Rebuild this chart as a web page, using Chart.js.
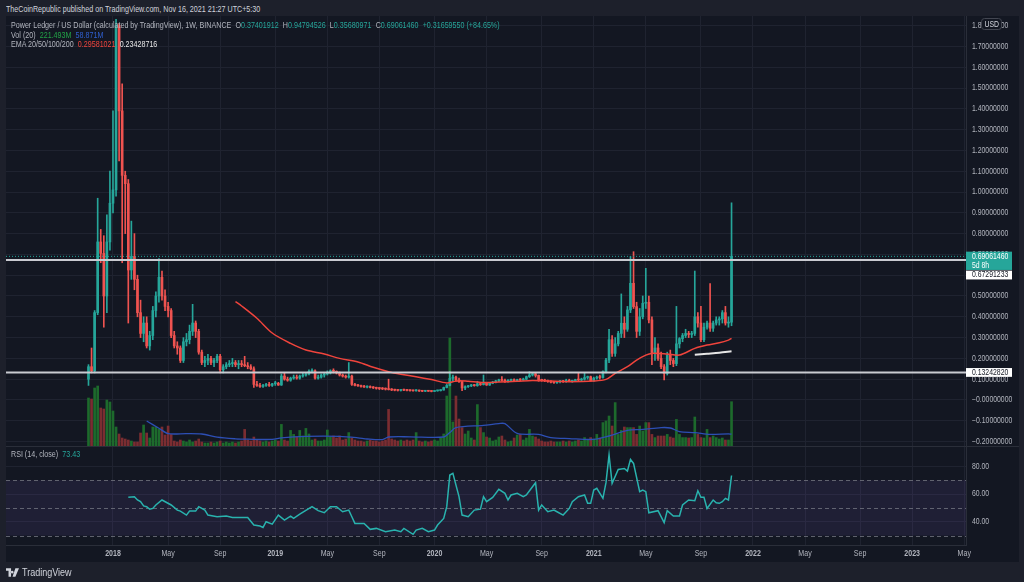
<!DOCTYPE html>
<html lang="en">
<head>
<meta charset="utf-8">
<title>Power Ledger / US Dollar - 1W</title>
<script src="https://cdn.jsdelivr.net/npm/chart.js@4.4.1/dist/chart.umd.min.js"></script>
<style>
  html, body { margin: 0; padding: 0; }
  body {
    width: 1024px; height: 582px; overflow: hidden; position: relative;
    background: #1d202b;
    font-family: "Liberation Sans", Arial, sans-serif;
    color: #b2b5be;
  }
  #panel { position: absolute; left: 6px; top: 16px; width: 1013px; height: 546px; background: #131722; }
  #mainChart { position: absolute; left: 6px; top: 16px; }
  #rsiChart { position: absolute; left: 6px; top: 446px; }
  .sep { position: absolute; background: #2a2e39; }
  .txt {
    position: absolute; white-space: nowrap; font-size: 8.6px; line-height: 10px;
    transform: scaleX(0.83); transform-origin: left center;
  }
  .txt span { margin-right: 5px; }
  .up { color: #26a69a; }
  .grn { color: #22a447; }
  .blu { color: #2f5fd0; }
  .red { color: #f0443c; }
  .wht { color: #e6e6e6; }
  #footer { position: absolute; left: 6px; top: 567px; font-size: 10px; color: #d1d4dc; display: flex; align-items: center; }
  #footer span { transform: scaleX(0.9); transform-origin: left center; display: inline-block; }
  #footer svg { margin-right: 3px; }
</style>
</head>
<body>
<div id="panel"></div>
<canvas id="mainChart" width="1013" height="430"></canvas>
<canvas id="rsiChart" width="1013" height="116"></canvas>
<div class="sep" style="left:6px; top:446px; width:1013px; height:1px;"></div>

<div class="txt" style="left:6px; top:3.5px; color:#d1d4dc;">TheCoinRepublic published on TradingView.com, Nov 16, 2021 21:27 UTC+5:30</div>
<div class="txt" style="left:11px; top:20px;">
  <span>Power Ledger / US Dollar (calculated by TradingView), 1W, BINANCE</span><span>O<i class="up" style="font-style:normal">0.37401912</i></span><span>H<i class="up" style="font-style:normal">0.94794526</i></span><span>L<i class="up" style="font-style:normal">0.35680971</i></span><span>C<i class="up" style="font-style:normal">0.69061460</i></span><span class="up">+0.31659550 (+84.65%)</span>
</div>
<div class="txt" style="left:11px; top:29.5px;"><span>Vol (20)</span><span class="grn">221.493M</span><span class="blu">58.871M</span></div>
<div class="txt" style="left:11px; top:39px;"><span>EMA 20/50/100/200</span><span class="red">0.29581021</span><span class="wht">0.23428716</span></div>
<div class="txt" style="left:11px; top:449px;"><span>RSI (14, close)</span><span class="up">73.43</span></div>

<div id="footer">
  <svg width="13" height="9" viewBox="0 0 36 24"><path d="M0 0h14v24H7V7H0z M17 7a4 4 0 1 0 0.1 0z M26 0h10L26 24h-8z" fill="#d1d4dc"/></svg>
  <span>TradingView</span>
</div>

<script>
// ===== Data (weekly bars, week 0 = the bar of 1 Jan 2018) =====
const FIRST_WEEK = -8;

const opens = [
  0.10, 0.16, 0.14, 0.42, 0.76, 0.705, 0.50, 0.76, 0.946, 1.01,
  1.80, 1.39, 1.08, 1.04, 0.625, 0.69, 0.58, 0.42, 0.32, 0.37,
  0.26, 0.31, 0.43, 0.50, 0.59, 0.50, 0.45, 0.43, 0.31, 0.26,
  0.25, 0.19, 0.28, 0.29, 0.33, 0.37, 0.33, 0.23, 0.18, 0.19,
  0.20, 0.18, 0.19, 0.21, 0.145, 0.16, 0.17, 0.175, 0.18, 0.17,
  0.175, 0.17, 0.165, 0.16, 0.15, 0.075, 0.07, 0.065, 0.07, 0.075,
  0.07, 0.078, 0.08, 0.072, 0.115, 0.10, 0.095, 0.105, 0.11, 0.105,
  0.115, 0.12, 0.125, 0.138, 0.14, 0.105, 0.11, 0.12, 0.125, 0.13,
  0.14, 0.138, 0.13, 0.12, 0.115, 0.11, 0.115, 0.075, 0.07, 0.068,
  0.065, 0.062, 0.064, 0.06, 0.058, 0.056, 0.055, 0.053, 0.052, 0.05,
  0.048, 0.047, 0.046, 0.048, 0.047, 0.046, 0.045, 0.044, 0.046, 0.043,
  0.042, 0.044, 0.042, 0.041, 0.044, 0.045, 0.048, 0.06, 0.07, 0.104,
  0.11, 0.096, 0.088, 0.058, 0.064, 0.068, 0.07, 0.069, 0.078, 0.074,
  0.082, 0.072, 0.08, 0.086, 0.092, 0.096, 0.094, 0.09, 0.094, 0.097,
  0.093, 0.098, 0.096, 0.10, 0.112, 0.12, 0.126, 0.118, 0.096, 0.094,
  0.092, 0.088, 0.085, 0.083, 0.088, 0.09, 0.088, 0.095, 0.09, 0.092,
  0.098, 0.096, 0.10, 0.108, 0.112, 0.092, 0.105, 0.11, 0.108, 0.136,
  0.192, 0.29, 0.224, 0.27, 0.32, 0.369, 0.34, 0.433, 0.561, 0.449,
  0.33, 0.40, 0.465, 0.47, 0.385, 0.225, 0.25, 0.20, 0.16, 0.128,
  0.216, 0.19, 0.175, 0.27, 0.295, 0.31, 0.32, 0.315, 0.32, 0.40,
  0.37, 0.29, 0.35, 0.37, 0.345, 0.37, 0.385, 0.39, 0.42, 0.37,
  0.374
];
const highs = [
  0.17, 0.25, 0.43, 0.97, 0.82, 0.79, 0.89, 1.10, 1.39, 1.83,
  1.81, 1.52, 1.10, 1.06, 0.86, 0.80, 0.60, 0.48, 0.40, 0.40,
  0.33, 0.45, 0.52, 0.68, 0.62, 0.53, 0.47, 0.44, 0.33, 0.28,
  0.26, 0.30, 0.32, 0.36, 0.46, 0.38, 0.34, 0.24, 0.21, 0.22,
  0.21, 0.20, 0.22, 0.22, 0.17, 0.18, 0.19, 0.20, 0.19, 0.19,
  0.19, 0.21, 0.18, 0.17, 0.16, 0.09, 0.08, 0.075, 0.08, 0.085,
  0.08, 0.09, 0.085, 0.125, 0.13, 0.11, 0.11, 0.12, 0.12, 0.12,
  0.13, 0.13, 0.145, 0.15, 0.145, 0.12, 0.125, 0.13, 0.14, 0.145,
  0.15, 0.14, 0.135, 0.125, 0.12, 0.18, 0.12, 0.08, 0.075, 0.072,
  0.07, 0.068, 0.068, 0.065, 0.062, 0.06, 0.06, 0.058, 0.10, 0.055,
  0.052, 0.05, 0.05, 0.052, 0.05, 0.049, 0.048, 0.05, 0.048, 0.046,
  0.045, 0.046, 0.045, 0.045, 0.047, 0.05, 0.062, 0.075, 0.136, 0.12,
  0.115, 0.105, 0.09, 0.068, 0.07, 0.075, 0.075, 0.09, 0.08, 0.12,
  0.085, 0.085, 0.09, 0.095, 0.10, 0.112, 0.10, 0.098, 0.10, 0.102,
  0.10, 0.103, 0.105, 0.115, 0.136, 0.13, 0.13, 0.12, 0.10, 0.10,
  0.096, 0.093, 0.09, 0.09, 0.095, 0.095, 0.10, 0.10, 0.095, 0.10,
  0.13, 0.105, 0.13, 0.115, 0.115, 0.11, 0.115, 0.12, 0.14, 0.20,
  0.34, 0.31, 0.30, 0.33, 0.51, 0.40, 0.45, 0.69, 0.713, 0.47,
  0.44, 0.50, 0.633, 0.50, 0.40, 0.30, 0.27, 0.23, 0.17, 0.23,
  0.24, 0.20, 0.45, 0.30, 0.32, 0.34, 0.33, 0.33, 0.62, 0.42,
  0.45, 0.37, 0.38, 0.56, 0.38, 0.40, 0.40, 0.43, 0.45, 0.40,
  0.948
];
const lows = [
  0.07, 0.13, 0.13, 0.41, 0.66, 0.35, 0.42, 0.72, 0.90, 0.98,
  1.15, 0.66, 0.80, 0.37, 0.58, 0.53, 0.40, 0.30, 0.28, 0.25,
  0.24, 0.29, 0.40, 0.47, 0.48, 0.43, 0.40, 0.30, 0.25, 0.22,
  0.18, 0.18, 0.26, 0.27, 0.31, 0.30, 0.22, 0.17, 0.16, 0.17,
  0.17, 0.16, 0.18, 0.13, 0.13, 0.15, 0.16, 0.16, 0.16, 0.15,
  0.16, 0.16, 0.15, 0.145, 0.06, 0.065, 0.06, 0.06, 0.065, 0.065,
  0.065, 0.07, 0.07, 0.07, 0.095, 0.09, 0.09, 0.10, 0.10, 0.10,
  0.11, 0.115, 0.12, 0.13, 0.10, 0.10, 0.105, 0.11, 0.12, 0.125,
  0.13, 0.125, 0.115, 0.11, 0.105, 0.105, 0.07, 0.068, 0.065, 0.062,
  0.06, 0.058, 0.058, 0.055, 0.052, 0.05, 0.05, 0.048, 0.048, 0.045,
  0.044, 0.043, 0.043, 0.045, 0.044, 0.043, 0.042, 0.042, 0.041, 0.04,
  0.04, 0.041, 0.039, 0.04, 0.042, 0.043, 0.047, 0.058, 0.068, 0.09,
  0.09, 0.085, 0.045, 0.05, 0.06, 0.064, 0.066, 0.066, 0.07, 0.072,
  0.07, 0.07, 0.078, 0.082, 0.088, 0.09, 0.085, 0.086, 0.09, 0.09,
  0.09, 0.093, 0.094, 0.098, 0.108, 0.115, 0.11, 0.09, 0.09, 0.088,
  0.085, 0.082, 0.08, 0.08, 0.082, 0.085, 0.085, 0.088, 0.085, 0.088,
  0.09, 0.09, 0.095, 0.10, 0.09, 0.09, 0.10, 0.10, 0.105, 0.13,
  0.18, 0.21, 0.21, 0.26, 0.30, 0.30, 0.33, 0.42, 0.44, 0.30,
  0.31, 0.39, 0.44, 0.37, 0.17, 0.19, 0.19, 0.15, 0.096, 0.12,
  0.17, 0.16, 0.165, 0.25, 0.28, 0.30, 0.30, 0.30, 0.31, 0.35,
  0.28, 0.28, 0.34, 0.33, 0.33, 0.36, 0.36, 0.37, 0.36, 0.35,
  0.357
];
const closes = [
  0.16, 0.14, 0.42, 0.76, 0.705, 0.50, 0.76, 0.946, 1.01, 1.80,
  1.39, 1.08, 1.04, 0.625, 0.69, 0.58, 0.42, 0.32, 0.37, 0.26,
  0.31, 0.43, 0.50, 0.59, 0.50, 0.45, 0.43, 0.31, 0.26, 0.25,
  0.19, 0.28, 0.29, 0.33, 0.37, 0.33, 0.23, 0.18, 0.19, 0.20,
  0.18, 0.19, 0.21, 0.145, 0.16, 0.17, 0.175, 0.18, 0.17, 0.175,
  0.17, 0.165, 0.16, 0.15, 0.075, 0.07, 0.065, 0.07, 0.075, 0.07,
  0.078, 0.08, 0.072, 0.115, 0.10, 0.095, 0.105, 0.11, 0.105, 0.115,
  0.12, 0.125, 0.138, 0.14, 0.105, 0.11, 0.12, 0.125, 0.13, 0.14,
  0.138, 0.13, 0.12, 0.115, 0.11, 0.115, 0.075, 0.07, 0.068, 0.065,
  0.062, 0.064, 0.06, 0.058, 0.056, 0.055, 0.053, 0.052, 0.05, 0.048,
  0.047, 0.046, 0.048, 0.047, 0.046, 0.045, 0.044, 0.046, 0.043, 0.042,
  0.044, 0.042, 0.041, 0.044, 0.045, 0.048, 0.06, 0.07, 0.104, 0.11,
  0.096, 0.088, 0.058, 0.064, 0.068, 0.07, 0.069, 0.078, 0.074, 0.082,
  0.072, 0.08, 0.086, 0.092, 0.096, 0.094, 0.09, 0.094, 0.097, 0.093,
  0.098, 0.096, 0.10, 0.112, 0.12, 0.126, 0.118, 0.096, 0.094, 0.092,
  0.088, 0.085, 0.083, 0.087, 0.09, 0.088, 0.095, 0.09, 0.092, 0.098,
  0.096, 0.10, 0.108, 0.112, 0.092, 0.105, 0.11, 0.108, 0.136, 0.192,
  0.29, 0.224, 0.27, 0.32, 0.369, 0.34, 0.433, 0.561, 0.449, 0.33,
  0.40, 0.465, 0.47, 0.385, 0.225, 0.25, 0.20, 0.16, 0.128, 0.216,
  0.19, 0.175, 0.27, 0.295, 0.31, 0.32, 0.315, 0.32, 0.40, 0.37,
  0.29, 0.35, 0.37, 0.345, 0.37, 0.385, 0.39, 0.42, 0.37, 0.374,
  0.691
];
// volume in millions
const volumes = [
  240, 235, 290, 300, 190, 185, 230, 220, 175, 95,
  60, 40, 35, 30, 25, 20, 20, 65, 105, 65,
  40, 95, 95, 85, 95, 55, 100, 58, 25, 20,
  30, 25, 20, 30, 20, 25, 35, 20, 15, 15,
  20, 15, 20, 25, 15, 20, 15, 20, 15, 20,
  25, 83, 30, 25, 45, 30, 25, 20, 25, 20,
  25, 30, 25, 108, 30, 25, 78, 58, 45, 78,
  50, 88, 60, 30, 35, 25, 25, 30, 80, 45,
  50, 40, 50, 30, 35, 67, 40, 30, 25, 25,
  20, 25, 30, 25, 25, 20, 25, 30, 183, 35,
  30, 25, 30, 25, 30, 25, 30, 67, 25, 20,
  25, 20, 25, 30, 25, 40, 60, 250, 540, 120,
  250, 135, 92, 60, 75, 40, 30, 207, 92, 67,
  45, 40, 25, 30, 45, 50, 30, 20, 25, 40,
  55, 58, 30, 40, 83, 50, 45, 35, 25, 20,
  20, 25, 20, 20, 20, 25, 20, 25, 20, 25,
  30, 25, 42, 30, 42, 35, 58, 40, 117, 125,
  150, 100, 217, 58, 78, 95, 92, 92, 92, 58,
  100, 75, 117, 117, 58, 42, 50, 50, 50, 58,
  45, 40, 133, 58, 42, 42, 40, 42, 145, 58,
  42, 40, 83, 42, 50, 42, 35, 40, 30, 30,
  221.5
];

const volMaWeeks = [11, 15, 18, 24, 29, 34, 40, 44, 52, 55, 63, 74, 80, 83, 88, 90, 97, 108, 110, 112,
  121, 126, 128, 132, 139, 143, 149, 157, 162, 168, 173, 179, 182, 185, 190, 195, 201, 202];
const volMaValues = [125, 89, 62, 62, 60, 44, 36, 34, 33, 41, 48, 48, 41, 35, 32, 45, 46, 45, 67, 92,
  103, 112, 112, 63, 58, 42, 37, 33, 50, 78, 83, 92, 90, 72, 67, 58, 61, 58.9];

const ema50Weeks = [40, 42, 47, 52, 58, 63, 69, 74, 80, 85, 90, 94, 99, 104, 109, 111, 113, 116, 121, 126,
  132, 137, 143, 149, 157, 161, 164, 168, 171, 174, 176, 181, 185, 190, 194, 198, 201, 202];
const ema50Values = [0.473, 0.452, 0.393, 0.322, 0.272, 0.24, 0.221, 0.20, 0.183, 0.157, 0.136, 0.124, 0.112, 0.098,
  0.082, 0.088, 0.093, 0.090, 0.084, 0.086, 0.090, 0.094, 0.091, 0.088, 0.091, 0.099, 0.128, 0.16, 0.192,
  0.216, 0.224, 0.221, 0.216, 0.248, 0.264, 0.275, 0.288, 0.296];
const ema200Weeks = [190, 194, 198, 202];
const ema200Values = [0.217, 0.222, 0.227, 0.234];

const rsiWeeks = [5, 7, 8, 9, 10, 11, 12, 13, 14, 16, 19, 21, 22, 24, 25, 27, 28, 30, 31, 34,
  37, 39, 44, 46, 48, 49, 50, 52, 54, 56, 58, 59, 61, 65, 67, 69, 71, 73, 75, 77,
  78, 79, 82, 84, 86, 89, 92, 94, 95, 98, 99, 101, 103, 105, 106, 108, 109, 110, 111, 113,
  114, 116, 118, 120, 121, 122, 124, 126, 128, 129, 130, 132, 134, 135, 137, 138, 139, 140, 142, 144,
  145, 147, 149, 150, 152, 154, 155, 156, 157, 158, 160, 161, 162, 163, 165, 167, 168, 169, 170, 172,
  173, 174, 175, 178, 180, 181, 183, 185, 186, 188, 190, 191, 192, 193, 194, 196, 197, 198, 199, 200,
  201, 202];
const rsiValues = [57.6, 58.1, 55.7, 54.5, 51.4, 50.9, 49, 49.6, 52.1, 55.7, 52.1, 48.4, 47.7, 44.8, 47.7, 47.7, 50.9, 48.4, 44.8, 43.6,
  44.1, 43.1, 43.1, 37.6, 36.9, 35.9, 40, 38.3, 44.8, 41.2, 44.1, 42.4, 45.5, 50.9, 48, 46.5, 50.9, 50.9, 47.2, 48.4,
  43.6, 38.8, 38.8, 34.5, 35.2, 32.8, 34, 32.8, 35.2, 30.9, 34, 35.2, 32.8, 34, 37.6, 42.4, 50.9, 73.7, 74.9, 58.1,
  44.8, 43.6, 48.4, 49.1, 58.1, 54.5, 57.6, 63.4, 60.5, 55.7, 59.3, 60.5, 58.1, 59.3, 65.3, 68.2, 48.4, 52.1, 47.2, 48.4,
  47.2, 44.8, 49.6, 54.5, 58.1, 59.3, 53.3, 53.3, 62.9, 64.1, 56.9, 68.2, 88.2, 67.7, 77.8, 78.5, 76.6, 85, 82.1, 61.7,
  62.9, 61.7, 46.5, 48, 39.3, 48, 44.1, 44.1, 52.1, 55.7, 55.2, 62.4, 57.6, 57.6, 49.6, 55.7, 53.7, 53.3, 54.5, 56.9,
  55.7, 73.4];

// horizontal levels drawn on the chart and the last close
const levelPrices = [0.67291233, 0.13242820];
const lastClose = 0.69061460;

// axis ticks
const priceTicks = [-0.2, -0.1, 0, 0.1, 0.2, 0.3, 0.4, 0.5, 0.6, 0.7, 0.8, 0.9, 1.0, 1.1, 1.2, 1.3, 1.4, 1.5, 1.6, 1.7, 1.8];
const rsiTicks = [40, 60, 80];
const rsiBands = [70, 50, 30];
const timeTickWeeks = [0, 18, 35, 53, 70, 87, 105, 122, 140, 157, 174, 192, 209, 226, 244, 261, 278];
const timeTickLabels = ['2018', 'May', 'Sep', '2019', 'May', 'Sep', '2020', 'May', 'Sep', '2021', 'May', 'Sep',
  '2022', 'May', 'Sep', '2023', 'May'];

// ===== Look =====
const FONT = '"Liberation Sans", Arial, sans-serif';
const SX = 0.82;          // TradingView text is narrow, squeeze it a little
const UP = '#26a69a';
const DOWN = '#ef5350';
const VOL_UP = '#1d6a2c';
const VOL_DOWN = '#7b2d31';
const GRID = '#1f2330';
const BORDER = '#2a2e39';
const TEXT = '#b2b5be';
const X_MIN = -34.94, X_MAX = 278.57;
const AXIS_W = 53;

const weeks = closes.map((_, i) => FIRST_WEEK + i);
const isUp = i => closes[i] >= opens[i];
const points = (xs, ys) => xs.map((x, i) => ({ x, y: ys[i] }));

function fmtPrice(v) {
  const a = Math.abs(v).toFixed(8);
  return (v < 0 || Math.abs(v) < 1e-9) ? '\u2212' + a : a;
}

function squeezedText(ctx, text, x, y, align) {
  ctx.save();
  ctx.translate(x, y);
  ctx.scale(SX, 1);
  ctx.textAlign = align || 'left';
  ctx.fillText(text, 0, 0);
  ctx.restore();
}

// ===== Right axis labels (ticks, last price, levels, currency) =====
const priceLabels = {
  id: 'priceLabels',
  afterDraw(chart) {
    const { ctx, chartArea, scales: { y } } = chart;
    const x0 = chartArea.right;
    ctx.save();
    ctx.font = `8.4px ${FONT}`;
    ctx.textBaseline = 'middle';

    ctx.fillStyle = TEXT;
    priceTicks.forEach(v => squeezedText(ctx, fmtPrice(v), x0 + 6, y.getPixelForValue(v)));

    const yc = y.getPixelForValue(lastClose);
    ctx.fillStyle = UP;
    ctx.fillRect(x0, yc - 4.7, 46, 18.3);
    ctx.fillStyle = '#ffffff';
    squeezedText(ctx, fmtPrice(lastClose), x0 + 6, yc + 0.3);
    squeezedText(ctx, '5d 8h', x0 + 6, yc + 9);

    // upper level label is pushed below the last-price box
    ctx.fillStyle = '#ffffff';
    ctx.fillRect(x0, yc + 14.3, 46, 8.8);
    ctx.fillStyle = '#131722';
    squeezedText(ctx, fmtPrice(levelPrices[0]), x0 + 6, yc + 18.8);

    const yl = y.getPixelForValue(levelPrices[1]);
    ctx.fillStyle = '#ffffff';
    ctx.fillRect(x0, yl - 4.4, 46, 8.8);
    ctx.fillStyle = '#131722';
    squeezedText(ctx, fmtPrice(levelPrices[1]), x0 + 6, yl);

    // currency badge
    ctx.fillStyle = '#131722';
    ctx.strokeStyle = '#434651';
    ctx.beginPath();
    ctx.roundRect(x0 + 15.5, 2.5, 20, 11, 3);
    ctx.fill();
    ctx.stroke();
    ctx.fillStyle = '#d1d4dc';
    squeezedText(ctx, 'USD', x0 + 18.5, 8.3);
    ctx.restore();
  }
};

// ===== Main pane: candles, volume, EMAs =====
new Chart(document.getElementById('mainChart'), {
  type: 'bar',
  data: {
    datasets: [
      {
        label: 'Volume', yAxisID: 'yVol', order: 6, grouped: false, barThickness: 2,
        data: points(weeks, volumes),
        backgroundColor: weeks.map((_, i) => isUp(i) ? VOL_UP : VOL_DOWN)
      },
      {
        type: 'line', label: 'Vol MA 20', yAxisID: 'yVol', order: 5,
        data: points(volMaWeeks, volMaValues),
        borderColor: '#2d4fb5', borderWidth: 1.3, pointRadius: 0, tension: 0.3
      },
      {
        label: 'Wicks', order: 4, grouped: false, barThickness: 1,
        data: weeks.map((k, i) => ({ x: k, y: [lows[i], highs[i]] })),
        backgroundColor: weeks.map((_, i) => isUp(i) ? UP : DOWN)
      },
      {
        label: 'Bodies', order: 3, grouped: false, barThickness: 2, minBarLength: 1,
        data: weeks.map((k, i) => ({ x: k, y: [opens[i], closes[i]] })),
        backgroundColor: weeks.map((_, i) => isUp(i) ? UP : DOWN)
      },
      {
        type: 'line', label: 'EMA 50', order: 2,
        data: points(ema50Weeks, ema50Values),
        borderColor: '#f0443c', borderWidth: 1.5, pointRadius: 0, tension: 0.3
      },
      {
        type: 'line', label: 'EMA 200', order: 2,
        data: points(ema200Weeks, ema200Values),
        borderColor: '#e6e6e6', borderWidth: 2, pointRadius: 0, tension: 0.3
      },
      ...levelPrices.map(p => ({
        type: 'line', label: 'Level', order: 1,
        data: [{ x: X_MIN, y: p }, { x: X_MAX, y: p }],
        borderColor: '#c9cbd1', borderWidth: 2, pointRadius: 0
      })),
      {
        type: 'line', label: 'Last', order: 0,
        data: [{ x: X_MIN, y: lastClose }, { x: X_MAX, y: lastClose }],
        borderColor: UP, borderWidth: 1, borderDash: [1, 2], pointRadius: 0
      }
    ]
  },
  options: {
    responsive: false,
    animation: false,
    layout: { padding: 0 },
    plugins: { legend: { display: false }, tooltip: { enabled: false } },
    scales: {
      x: {
        type: 'linear', min: X_MIN, max: X_MAX, offset: false,
        afterBuildTicks: s => { s.ticks = timeTickWeeks.map(v => ({ value: v })); },
        afterFit: s => { s.height = 0; },
        ticks: { display: false },
        grid: { color: GRID, drawTicks: false, offset: false },
        border: { display: false }
      },
      y: {
        position: 'right', min: -0.2212, max: 1.8462,
        afterBuildTicks: s => { s.ticks = priceTicks.map(v => ({ value: v })); },
        afterFit: s => { s.width = AXIS_W; },
        ticks: { display: false },
        grid: { color: GRID, drawTicks: false },
        border: { color: BORDER }
      },
      yVol: { display: false, min: 0, max: 2150 }
    }
  },
  plugins: [priceLabels]
});

// ===== RSI pane =====
const rsiBand = {
  id: 'rsiBand',
  beforeDatasetsDraw(chart) {
    const { ctx, chartArea: a, scales: { y } } = chart;
    const top = y.getPixelForValue(rsiBands[0]);
    const bottom = y.getPixelForValue(rsiBands[2]);
    ctx.save();
    ctx.fillStyle = 'rgba(126, 87, 194, 0.12)';
    ctx.fillRect(a.left, top, a.right - a.left, bottom - top);
    ctx.strokeStyle = 'rgba(120, 123, 134, 0.75)';
    ctx.lineWidth = 1;
    ctx.setLineDash([4, 3]);
    rsiBands.forEach(v => {
      const yy = Math.round(y.getPixelForValue(v)) + 0.5;
      ctx.beginPath();
      ctx.moveTo(a.left, yy);
      ctx.lineTo(a.right, yy);
      ctx.stroke();
    });
    ctx.restore();
  },
  afterDraw(chart) {
    const { ctx, chartArea: a, scales: { x, y } } = chart;
    ctx.save();
    ctx.textBaseline = 'middle';
    ctx.fillStyle = TEXT;
    ctx.font = `8.4px ${FONT}`;
    rsiTicks.forEach(v => squeezedText(ctx, v.toFixed(2), a.right + 6, y.getPixelForValue(v)));
    timeTickWeeks.forEach((k, i) => {
      const label = timeTickLabels[i];
      ctx.font = `${/^\d{4}$/.test(label) ? 'bold ' : ''}8.6px ${FONT}`;
      squeezedText(ctx, label, x.getPixelForValue(k), a.bottom + 9, 'center');
    });
    ctx.restore();
  }
};

new Chart(document.getElementById('rsiChart'), {
  type: 'line',
  data: {
    datasets: [{
      label: 'RSI', data: points(rsiWeeks, rsiValues),
      borderColor: '#29b3ae', borderWidth: 1.5, pointRadius: 0, tension: 0
    }]
  },
  options: {
    responsive: false,
    animation: false,
    layout: { padding: 0 },
    plugins: { legend: { display: false }, tooltip: { enabled: false } },
    scales: {
      x: {
        type: 'linear', min: X_MIN, max: X_MAX,
        afterBuildTicks: s => { s.ticks = timeTickWeeks.map(v => ({ value: v })); },
        afterFit: s => { s.height = 17; },
        ticks: { display: false },
        grid: { color: GRID, drawTicks: false },
        border: { color: BORDER }
      },
      y: {
        position: 'right', min: 23.2, max: 94.7,
        afterBuildTicks: s => { s.ticks = rsiTicks.map(v => ({ value: v })); },
        afterFit: s => { s.width = AXIS_W; },
        ticks: { display: false },
        grid: { color: GRID, drawTicks: false },
        border: { color: BORDER }
      }
    }
  },
  plugins: [rsiBand]
});
</script>
</body>
</html>
